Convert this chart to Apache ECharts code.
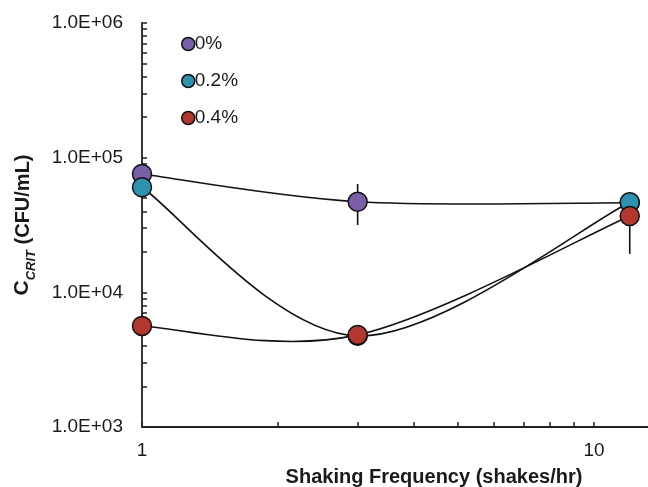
<!DOCTYPE html>
<html><head><meta charset="utf-8">
<script src="https://cdn.jsdelivr.net/npm/echarts@6/dist/echarts.min.js"></script>
<style>html,body{margin:0;padding:0;background:#fff}#c{width:648px;height:487px}</style>
</head><body><div id="c"></div>
<script>
// ---- data ----
const freq = [1, 3, 12];
const s0 = [75700, 47100, 46300];
const s02 = [60300, 4750, 46700];
const s04 = [5630, 4830, 36900];
const seriesNames = ['0%', '0.2%', '0.4%'];
const seriesColors = ['#7B5FA6', '#2D92AE', '#B1372F'];
// error bars: [x, low, high]
const err0 = [[3, 31600, 63800]];
const err04 = [[12, 19300, 54000]];
const xTickValues = [1, 2, 3, 4, 5, 6, 7, 8, 9, 10];
const xLabelValues = [1, 10];
const yTickValues = [1000, 2000, 3000, 4000, 5000, 6000, 7000, 8000, 9000,
  10000, 20000, 30000, 40000, 50000, 60000, 70000, 80000, 90000,
  100000, 200000, 300000, 400000, 500000, 600000, 700000, 800000, 900000, 1000000];
const yLabelValues = [1000, 10000, 100000, 1000000];

const FONT = 'Liberation Sans, Arial, sans-serif';
const INK = '#1a1a1a';
const pairs = (ys) => freq.map((x, i) => [x, ys[i]]);
const allSeries = [s0, s02, s04];

// smoothed connecting curves (Catmull-Rom style Bezier segments, computed in pixel space)
function smoothSegment(params, api) {
  const n = params.dataInsideLength;
  const i = params.dataIndexInside;
  if (i >= n - 1) return null;
  const P = (k) => {
    const kk = Math.max(0, Math.min(n - 1, k));
    return api.coord([api.value(0, kk), api.value(1, kk)]);
  };
  const p0 = P(i - 1), p1 = P(i), p2 = P(i + 1), p3 = P(i + 2);
  const c1 = [p1[0] + (p2[0] - p0[0]) / 6, p1[1] + (p2[1] - p0[1]) / 6];
  const c2 = [p2[0] - (p3[0] - p1[0]) / 6, p2[1] - (p3[1] - p1[1]) / 6];
  return {
    type: 'bezierCurve',
    shape: { x1: p1[0], y1: p1[1], x2: p2[0], y2: p2[1], cpx1: c1[0], cpy1: c1[1], cpx2: c2[0], cpy2: c2[1] },
    style: { stroke: '#111', lineWidth: 1.6, fill: null }
  };
}

const lineSeries = allSeries.map((ys, i) => ({
  type: 'custom', name: 'line' + i, data: pairs(ys), silent: true, z: 2,
  renderItem: smoothSegment
}));

const errSeries = {
  type: 'custom', name: 'err', silent: true, z: 3,
  data: err0.concat(err04),
  renderItem: function (params, api) {
    const a = api.coord([api.value(0), api.value(1)]);
    const b = api.coord([api.value(0), api.value(2)]);
    return { type: 'line', shape: { x1: a[0], y1: a[1], x2: b[0], y2: b[1] },
      style: { stroke: '#111', lineWidth: 1.6 } };
  }
};

const scatterSeries = allSeries.map((ys, i) => ({
  type: 'scatter', name: seriesNames[i], data: pairs(ys), symbol: 'circle',
  symbolSize: 19, z: 4,
  itemStyle: { color: seriesColors[i], borderColor: '#111', borderWidth: 1.5, opacity: 1 }
}));

const chart = echarts.init(document.getElementById('c'), null, { renderer: 'canvas' });
chart.setOption({
  animation: false,
  backgroundColor: '#fff',
  textStyle: { fontFamily: FONT },
  grid: { left: 142, right: 0, top: 23, bottom: 60, containLabel: false, outerBoundsMode: 'none' },
  legend: {
    data: seriesNames, orient: 'vertical', left: 176, top: 29,
    icon: 'circle', itemWidth: 13, itemHeight: 13, itemGap: 17,
    itemStyle: { borderColor: '#111', borderWidth: 1.5 },
    textStyle: { fontFamily: FONT, fontSize: 19, lineHeight: 20, color: INK, padding: [0, 0, 0, -5] }
  },
  xAxis: {
    type: 'log', logBase: 10, min: 1, max: 13.17,
    name: 'Shaking Frequency (shakes/hr)', nameLocation: 'middle', nameGap: 40,
    nameTextStyle: { fontFamily: FONT, fontSize: 20, fontWeight: 'bold', color: INK, padding: [0, 0, 0, 78] },
    axisLine: { show: true, onZero: false, lineStyle: { color: '#222', width: 1.8 } },
    axisTick: { show: true, inside: true, length: 5, customValues: xTickValues, lineStyle: { color: '#222', width: 1.5 } },
    minorTick: { show: false },
    axisLabel: { customValues: xLabelValues, margin: 14, fontFamily: FONT, fontSize: 19, color: INK },
    splitLine: { show: false }
  },
  yAxis: {
    type: 'log', logBase: 10, min: 1000, max: 1000000,
    name: '{c|C}{s|CRIT}{t| (CFU/mL)}', nameLocation: 'middle', nameRotate: 90, nameGap: 104,
    nameTextStyle: {
      rich: {
        c: { fontFamily: FONT, fontSize: 21, fontWeight: 'bold', color: INK, verticalAlign: 'bottom', padding: [0, 0, 5, 0] },
        s: { fontFamily: FONT, fontSize: 13, fontWeight: 'bold', fontStyle: 'italic', color: INK, verticalAlign: 'bottom' },
        t: { fontFamily: FONT, fontSize: 20, fontWeight: 'bold', color: INK, verticalAlign: 'bottom', padding: [0, 0, 5, 0] }
      }
    },
    axisLine: { show: true, lineStyle: { color: '#222', width: 1.8 } },
    axisTick: { show: true, inside: true, length: 5, customValues: yTickValues, lineStyle: { color: '#222', width: 1.5 } },
    axisLabel: {
      customValues: yLabelValues, margin: 19, fontFamily: FONT, fontSize: 19, color: INK,
      formatter: (v) => '1.0E+' + String(Math.round(Math.log10(v))).padStart(2, '0')
    },
    splitLine: { show: false }
  },
  series: lineSeries.concat([errSeries]).concat(scatterSeries)
});
</script>
</body></html>
